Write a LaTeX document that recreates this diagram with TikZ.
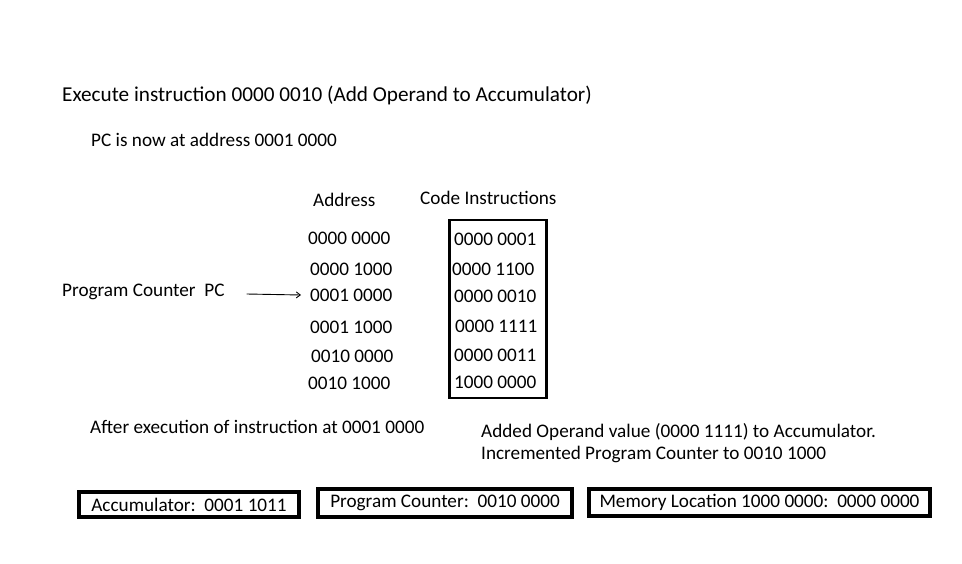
\documentclass[tikz,border=0pt]{standalone}
\usepackage{fontspec}
\setmainfont{Carlito}
\usetikzlibrary{arrows.meta}

\tikzset{
  txt/.style={anchor=west, inner sep=0pt, font=\fontsize{19.2}{23}\selectfont},
  titletxt/.style={txt, font=\fontsize{21.2}{25}\selectfont},
  regbox/.style={draw, line width=3.2pt, inner sep=0pt, font=\fontsize{19.2}{23}\selectfont},
}

\begin{document}
\begin{tikzpicture}[x=1pt, y=-1pt]
            \useasboundingbox (0,0) rectangle (962,563);

            \node[titletxt] (title) at (62,95) {Execute instruction 0000 0010 (Add Operand to Accumulator)};
            \node[txt] (pcnow) at (91,140) {PC is now at address 0001 0000};

            \node[txt] (addrhead) at (313,200) {Address};
            \node[txt] (codehead) at (420,198) {Code Instructions};

            % address column
            \node[txt] (addr1) at (308,238) {0000 0000};
            \node[txt] (addr2) at (310,269) {0000 1000};
            \node[txt] (addr3) at (310,295) {0001 0000};
            \node[txt] (addr4) at (310,327) {0001 1000};
            \node[txt] (addr5) at (311,356) {0010 0000};
            \node[txt] (addr6) at (308,383) {0010 1000};

            % code column
            \node[draw, line width=2.5pt, minimum width=97, minimum height=178] (codebox) at (498,309) {};
            \node[txt] (code1) at (454,239) {0000 0001};
            \node[txt] (code2) at (452,269) {0000 1100};
            \node[txt] (code3) at (454,296) {0000 0010};
            \node[txt] (code4) at (455,326) {0000 1111};
            \node[txt] (code5) at (454,355) {0000 0011};
            \node[txt] (code6) at (454,382) {1000 0000};

            \node[txt] (pclabel) at (62,292) {Program Counter\ \ PC};
            \draw[-{Straight Barb[length=4pt, width=6pt]}, line width=0.9pt]
                ([xshift=22]pclabel.east) ++(0,2) coordinate (pcstart) -- ([xshift=-9]addr3.west);

            \node[txt] (after) at (90,427) {After execution of instruction at 0001 0000};
            \node[txt] (added) at (481,432) {Added Operand value (0000 1111) to Accumulator.};
            \node[txt] (incr) at (481,454) {Incremented Program Counter to 0010 1000};

            % registers after execution
            \node[regbox, minimum width=220, minimum height=25] (acc) at (189,504.5) {Accumulator:\ \ 0001 1011};
            \node[regbox, minimum width=254, minimum height=28] (pcreg) at (445,503) {Program Counter:\ \ 0010 0000};
            \node[regbox, minimum width=341, minimum height=27] (mem) at (759.5,502.5) {Memory Location 1000 0000:\ \ 0000 0000};
        \end{tikzpicture}
\end{document}
